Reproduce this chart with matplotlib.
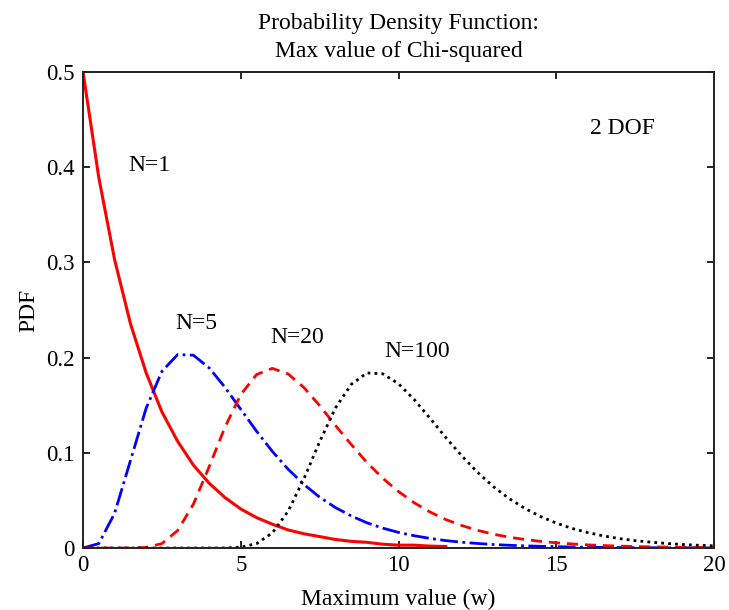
import numpy as np
import matplotlib.pyplot as plt

plt.rcParams['font.family'] = ['Liberation Serif', 'DejaVu Serif']

# values, step 0.5 in w
w = [0, 0.5, 1, 1.5, 2, 2.5, 3, 3.5, 4, 4.5, 5, 5.5, 6, 6.5, 7, 7.5, 8, 8.5, 9, 9.5,
     10, 10.5, 11, 11.5, 12, 12.5, 13, 13.5, 14, 14.5, 15, 15.5, 16, 16.5, 17, 17.5,
     18, 18.5, 19, 19.5, 20]

pdf_n1 = [0.5, 0.389, 0.303, 0.236, 0.184, 0.143, 0.112, 0.087, 0.068, 0.053, 0.041,
          0.032, 0.025, 0.019, 0.015, 0.012, 0.009, 0.007, 0.006, 0.004, 0.003, 0.003,
          0.002, 0.0016]

pdf_n5 = [0.0, 0.0047, 0.0364, 0.0915, 0.1468, 0.1856, 0.2032, 0.2025, 0.1891, 0.1688,
          0.1457, 0.1227, 0.1015, 0.0828, 0.0668, 0.0534, 0.0425, 0.0337, 0.0265, 0.0209,
          0.0164, 0.0129, 0.0101, 0.0078, 0.0061, 0.0048, 0.0037, 0.0029, 0.0023, 0.0018,
          0.0014, 0.0011, 0.0008, 0.0007, 0.0005, 0.0004, 0.0003, 0.0002, 0.0002, 0.0001,
          0.0001]

pdf_n20 = [0.0, 0.0, 0.0, 0.0, 0.0006, 0.0047, 0.0184, 0.0462, 0.0855, 0.1270, 0.1612,
           0.1822, 0.1887, 0.1829, 0.1686, 0.1496, 0.1288, 0.1088, 0.0898, 0.0733,
           0.0593, 0.0475, 0.0378, 0.0299, 0.0237, 0.0186, 0.0146, 0.0114, 0.0090, 0.0070,
           0.0055, 0.0043, 0.0033, 0.0026, 0.0020, 0.0016, 0.0012, 0.0010, 0.0007, 0.0006,
           0.0005]

pdf_n100 = [0.0, 0.0, 0.0, 0.0, 0.0, 0.0, 0.0, 0.0, 0.0, 0.0001, 0.0009, 0.0046, 0.0158,
            0.0386, 0.0726, 0.1116, 0.1470, 0.1719, 0.1839, 0.1830, 0.1725, 0.1559, 0.1363,
            0.1160, 0.0970, 0.0797, 0.0647, 0.0521, 0.0417, 0.0331, 0.0262, 0.0206, 0.0162,
            0.0127, 0.0099, 0.0078, 0.0061, 0.0048, 0.0037, 0.0029, 0.0023]

fig = plt.figure(figsize=(7.29, 6.10), dpi=100)
ax = fig.add_axes([0.1139, 0.1016, 0.8655, 0.7804])

ax.plot(w[:len(pdf_n1)], pdf_n1, color='red', lw=2.2, ls='-')
ax.plot(w, pdf_n5, color='blue', lw=2.0, ls='-.')
ax.plot(w, pdf_n20, color='red', lw=2.0, ls=(0, (4, 2.5)))
ax.plot(w, pdf_n100, color='black', lw=2.0, ls=(0, (1, 1.5)))

fs = 17
ax.text(2.1, 0.402, 'N=1', fontsize=fs, ha='center', va='center')
ax.text(3.6, 0.236, 'N=5', fontsize=fs, ha='center', va='center')
ax.text(6.8, 0.221, 'N=20', fontsize=fs, ha='center', va='center')
ax.text(10.6, 0.206, 'N=100', fontsize=fs, ha='center', va='center')
ax.text(17.1, 0.441, '2 DOF', fontsize=fs, ha='center', va='center')

ax.set_xlim(0, 20)
ax.set_ylim(0, 0.5)
ax.set_xticks([0, 5, 10, 15, 20])
ax.set_yticks([0, 0.1, 0.2, 0.3, 0.4, 0.5])
ax.set_yticklabels(['0', '0.1', '0.2', '0.3', '0.4', '0.5'])
ax.tick_params(direction='in', top=True, right=True, labelsize=16.5, length=5, width=1.2)
ax.tick_params(axis='x', pad=5)
ax.tick_params(axis='y', pad=6)
for s in ax.spines.values():
    s.set_linewidth(1.4)
    s.set_color('#222222')

ax.set_xlabel('Maximum value (w)', fontsize=fs, labelpad=9)
ax.set_ylabel('PDF', fontsize=fs, labelpad=5)
ax.set_title('Probability Density Function:\nMax value of Chi-squared', fontsize=fs,
             pad=11, linespacing=1.4)

fig.savefig('out.png', dpi=100)
